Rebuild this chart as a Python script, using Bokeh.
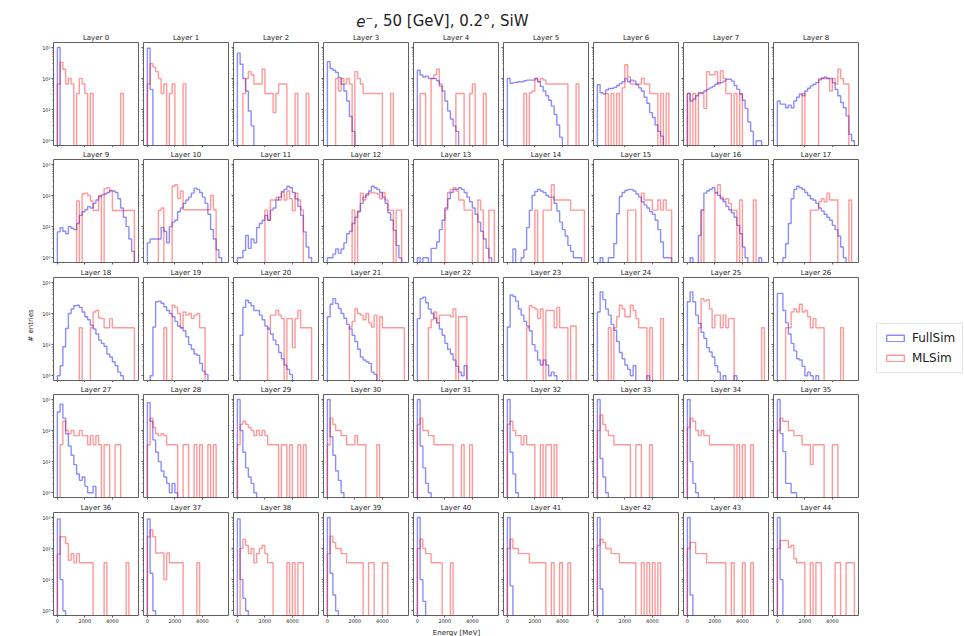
import math
from bokeh.plotting import figure
from bokeh.layouts import column, row
from bokeh.models import Range1d, FixedTicker, Label, Legend, LegendItem, CustomLabelingPolicy
from bokeh.embed import file_html
from bokeh.resources import INLINE

# ---------------- data ----------------
BIN_EDGES = [0, 200, 400, 600, 800, 1000, 1200, 1400, 1600, 1800, 2000, 2200, 2400, 2600,
             2800, 3000, 3200, 3400, 3600, 3800, 4000, 4200, 4400, 4600, 4800, 5000, 5200,
             5400, 5600]
X_TICKS = [0, 2000, 4000]
Y_TICKS = [1, 10, 100, 1000]
Y_TICK_LABELS = ["10⁰", "10¹", "10²", "10³"]
Y_MINOR = [2, 3, 4, 5, 6, 7, 8, 9, 20, 30, 40, 50, 60, 70, 80, 90, 200, 300, 400, 500, 600, 700, 800, 900]
SERIES_NAMES = ["FullSim", "MLSim"]

# entries per 200 MeV bin (FullSim = FULL_Lk, MLSim = ML_Lk); missing trailing bins are empty
FULL_L0 = [1000]
ML_L0 = [67, 333, 200, 67, 100, 67, 0, 33, 100, 67, 33, 0, 33, 0, 0, 0, 0, 0, 0, 0, 0, 0, 0, 33]
FULL_L1 = [950, 45]
ML_L1 = [67, 300, 233, 167, 100, 33, 67, 0, 33, 67, 0, 0, 0, 67]
FULL_L2 = [660, 290, 100, 40, 9, 3]
ML_L2 = [0, 0, 33, 100, 167, 133, 67, 67, 67, 200, 33, 33, 33, 8, 33, 67, 67, 67, 0, 0, 0, 33, 0, 0, 0, 33]
FULL_L3 = [350, 210, 185, 158, 107, 66, 40, 19, 6, 2]
ML_L3 = [0, 0, 0, 100, 40, 100, 67, 100, 67, 0, 167, 100, 67, 33, 33, 33, 33, 33, 33, 33, 0, 0, 0, 33]
FULL_L4 = [185, 130, 112, 120, 100, 100, 100, 85, 57, 40, 19, 9, 5, 3, 2]
ML_L4 = [0, 33, 33, 0, 0, 100, 133, 200, 67, 0, 0, 0, 0, 0, 33, 33, 33, 0, 0, 33, 67, 0, 0, 0, 33]
FULL_L5 = [100, 71, 74, 76, 79, 79, 85, 89, 89, 89, 100, 79, 56, 40, 28, 20, 13, 7, 3.2, 1.3]
ML_L5 = [0, 0, 0, 0, 0, 0, 33, 0, 35, 40, 100, 80, 100, 90, 67, 67, 67, 67, 67, 67, 67, 67, 0, 0, 0, 67]
FULL_L6 = [63, 35, 32, 43, 48, 48, 52, 60, 69, 79, 100, 79, 89, 83, 63, 50, 40, 25, 16, 8, 5.6, 3.2, 2, 1.4]
ML_L6 = [0, 0, 0, 33, 0, 33, 0, 33, 0, 50, 280, 112, 67, 67, 67, 67, 100, 67, 67, 33, 33, 33, 0, 33, 0, 33]
FULL_L7 = [33, 19, 22, 28, 35, 35, 40, 45, 50, 56, 66, 74, 74, 83, 95, 95, 83, 60, 45, 32, 20, 11, 4, 2, 0, 1, 1]
ML_L7 = [33, 0, 33, 0, 33, 33, 11, 167, 133, 133, 167, 67, 178, 100, 33, 33, 0, 33, 0, 33]
FULL_L8 = [19, 15, 15, 11.5, 14, 11.5, 19, 25, 32, 28, 40, 49, 58, 66, 74, 91, 102, 112, 100, 100, 74, 45, 28, 17, 11.5, 6.3, 1.6, 1]
ML_L8 = [0, 0, 0, 0, 0, 0, 0, 0, 0, 33, 0, 0, 0, 0, 0, 100, 100, 100, 100, 40, 100, 67, 200, 100, 67, 67]
FULL_L9 = [6.8, 9.3, 7.1, 5.9, 10, 8.9, 8, 12.6, 23, 30, 35, 44, 40, 56, 72, 93, 105, 112, 126, 145, 141, 126, 79, 40, 20, 10, 4, 1.6]
ML_L9 = [0, 0, 0, 0, 0, 0, 0, 67, 0, 112, 120, 100, 67, 33, 33, 100, 0, 167, 178, 141, 33, 33, 33, 33, 33, 33, 33, 33]
FULL_L10 = [3, 4, 4, 4, 4, 9.3, 7.1, 3, 10, 14, 16, 30, 40, 56, 72, 89, 120, 174, 158, 126, 89, 56, 25, 8, 4, 1.8, 1]
ML_L10 = [0, 0, 0, 0, 33, 40, 0, 0, 0, 200, 224, 80, 141, 35, 35, 35, 35, 35, 35, 35, 35, 35, 35, 100, 35]
FULL_L11 = [1, 1, 1.7, 5.2, 2, 4, 3, 9.3, 12.6, 16, 23, 16, 34, 40, 72, 89, 135, 158, 200, 178, 126, 79, 45, 23, 6.8, 2.2, 1]
ML_L11 = [0, 0, 0, 0, 0, 0, 0, 0, 0, 0, 34, 16, 72, 72, 89, 72, 126, 72, 141, 79, 33, 120, 72, 34]
FULL_L12 = [1, 1, 1.3, 1.9, 1.4, 1.9, 3, 5.9, 7.1, 12.6, 20, 30, 56, 89, 112, 141, 200, 178, 158, 126, 89, 56, 28, 16, 7.6, 2.5, 1]
ML_L12 = [0, 0, 0, 0, 0, 0, 0, 0, 0, 34, 0, 32, 120, 72, 100, 120, 126, 120, 112, 79, 126, 72, 34, 34, 0, 34, 34]
FULL_L13 = [1, 0, 1, 1, 0, 2, 2, 3.2, 8, 16, 40, 79, 126, 158, 158, 178, 158, 126, 89, 63, 40, 25, 14, 7.1, 4, 2, 1]
ML_L13 = [0, 0, 0, 0, 0, 0, 0, 0, 0, 0, 34, 126, 158, 178, 141, 72, 72, 34, 34, 34, 0, 0, 72, 34, 0, 0, 34, 34]
FULL_L14 = [0, 0, 1.9, 0, 0, 1, 1.8, 9.3, 34, 100, 135, 158, 141, 126, 100, 89, 89, 56, 32, 14, 8, 5, 2.5, 1.6, 1, 1, 1]
ML_L14 = [0, 0, 0, 0, 0, 0, 0, 0, 0, 0, 34, 0, 0, 34, 34, 34, 224, 72, 72, 72, 72, 72, 72, 34, 34, 34, 34, 34]
FULL_L15 = [0, 1, 0, 0, 1, 1, 2.8, 26, 93, 126, 145, 158, 158, 141, 112, 89, 63, 50, 40, 30, 25, 16, 8, 3.2, 1, 1, 1]
ML_L15 = [0, 0, 0, 0, 0, 0, 0, 0, 0, 0, 0, 34, 34, 34, 0, 0, 120, 72, 72, 72, 34, 34, 72, 34, 72, 34, 34]
FULL_L16 = [0, 1, 0, 0, 5.2, 34, 120, 141, 158, 178, 126, 100, 79, 63, 45, 35, 28, 20, 11, 5.9, 2.2, 1, 0, 0, 0, 0, 1]
ML_L16 = [0, 0, 0, 0, 0, 34, 0, 0, 0, 0, 120, 224, 89, 72, 79, 56, 34, 34, 0, 72, 0, 0, 0, 0, 72]
FULL_L17 = [0, 0, 1, 2.8, 12.6, 79, 158, 200, 178, 158, 126, 100, 79, 71, 56, 40, 32, 25, 20, 16, 11, 8, 5, 2.2, 1]
ML_L17 = [0, 0, 0, 0, 0, 0, 0, 0, 0, 0, 0, 0, 34, 34, 34, 63, 79, 63, 120, 72, 72, 72, 0, 0, 0, 0, 72]
FULL_L18 = [1, 2.1, 8.5, 33, 100, 141, 178, 186, 158, 112, 79, 63, 42, 32, 22, 14, 11, 8.9, 5, 4, 2.8, 2.1, 1.3, 1]
ML_L18 = [0, 0, 0, 0, 0, 0, 0, 0, 35, 0, 0, 0, 35, 112, 126, 72, 69, 35, 35, 69, 35, 35, 35, 35, 35, 35, 35, 35]
FULL_L19 = [0, 1, 37, 240, 251, 214, 166, 126, 100, 79, 56, 40, 35, 28, 18, 10, 7.1, 5, 4.5, 2.5, 1.4, 1.1]
ML_L19 = [0, 0, 0, 0, 0, 0, 35, 0, 0, 186, 158, 100, 35, 112, 89, 100, 69, 89, 100, 35, 35]
FULL_L20 = [0, 20, 158, 269, 224, 178, 126, 126, 89, 63, 40, 32, 22, 14, 10, 5.6, 3.5, 2.2, 1.6, 1.1]
ML_L20 = [0, 0, 0, 0, 0, 0, 0, 0, 0, 0, 0, 35, 89, 89, 126, 89, 69, 0, 69, 69, 8, 69, 126, 35, 35, 35, 35]
FULL_L21 = [79, 200, 302, 209, 145, 100, 71, 45, 32, 20, 12.6, 7.1, 4, 3.2, 2.8, 2.5, 1.3, 1.1]
ML_L21 = [0, 0, 0, 0, 0, 0, 0, 0, 37, 56, 141, 100, 89, 63, 100, 50, 37, 89, 0, 79, 35, 35, 35, 35, 35, 35, 35, 35]
FULL_L22 = [69, 302, 339, 224, 141, 100, 71, 50, 32, 20, 11, 7.1, 5, 3.2, 2, 1.3, 1, 2.1]
ML_L22 = [0, 0, 0, 0, 35, 63, 112, 50, 89, 89, 89, 89, 79, 141, 0, 79, 79, 79]
FULL_L23 = [37, 398, 355, 251, 141, 89, 56, 40, 28, 10, 6.3, 3.2, 2.2, 3.2, 2.2, 1, 1.3, 1]
ML_L23 = [0, 0, 0, 0, 0, 0, 0, 35, 178, 158, 141, 69, 141, 0, 126, 126, 126, 35, 158, 35, 35, 35, 0, 40, 40]
FULL_L24 = [112, 501, 282, 141, 89, 45, 29, 12.6, 5.6, 3.5, 2.2, 1.6, 1, 2.1, 0, 0, 0, 0, 1]
ML_L24 = [0, 0, 0, 0, 35, 0, 35, 79, 186, 141, 79, 79, 186, 126, 69, 35, 35, 35, 0, 35, 0, 0, 0, 69]
FULL_L25 = [240, 501, 240, 89, 48, 25, 16, 8, 5.8, 4, 2.1, 1.3, 0, 1, 0, 0, 0, 1]
ML_L25 = [0, 0, 0, 0, 35, 302, 251, 282, 141, 35, 89, 89, 35, 89, 35, 69, 69, 0, 0, 0, 0, 0, 0, 0, 0, 0, 0, 35]
FULL_L26 = [447, 447, 126, 50, 22, 11, 6.3, 3.5, 3.2, 2, 1, 1.3, 1, 0, 1]
ML_L26 = [0, 0, 0, 35, 35, 112, 141, 112, 200, 112, 126, 79, 35, 69, 35, 35, 35, 0, 0, 0, 0, 0, 0, 35]
FULL_L27 = [398, 708, 251, 79, 32, 16, 8, 4, 2.5, 3.2, 1.6, 1, 1, 1.6]
ML_L27 = [0, 35, 200, 100, 79, 100, 69, 69, 100, 69, 69, 35, 69, 35, 69, 35, 0, 35, 35, 0, 0, 35, 35]
FULL_L28 = [794, 200, 50, 20, 10, 5, 3.2, 2, 1, 2, 1]
ML_L28 = [35, 251, 126, 79, 69, 79, 69, 35, 35, 35, 35, 0, 0, 35, 35, 0, 0, 35, 0, 35, 0, 0, 35, 0, 35]
FULL_L29 = [1000, 100, 20, 6.3, 3.2, 2, 1]
ML_L29 = [35, 158, 200, 158, 126, 100, 69, 100, 69, 100, 69, 35, 35, 35, 35, 0, 35, 35, 0, 35, 0, 0, 35, 0, 35]
FULL_L30 = [1000, 63, 16, 5, 2.5, 1]
ML_L30 = [35, 251, 158, 100, 100, 69, 69, 35, 35, 35, 69, 35, 35, 35, 0, 0, 0, 0, 35]
FULL_L31 = [1000, 32, 6.3, 2, 1]
ML_L31 = [158, 251, 100, 100, 69, 69, 35, 35, 35, 35, 35, 35, 35, 0, 0, 0, 35, 0, 0, 35]
FULL_L32 = [1000, 20, 4, 1]
ML_L32 = [158, 200, 100, 69, 69, 35, 69, 35, 35, 35, 0, 0, 35, 0, 35, 35, 0, 35]
FULL_L33 = [1000, 12.6, 3.2, 1]
ML_L33 = [100, 316, 158, 100, 69, 69, 35, 35, 35, 35, 35, 35, 0, 0, 35, 35, 0, 0, 0, 35]
FULL_L34 = [1000, 10, 2, 1]
ML_L34 = [126, 251, 200, 100, 69, 100, 69, 69, 35, 35, 35, 35, 35, 35, 35, 35, 35, 0, 35, 0, 35, 0, 0, 35]
FULL_L35 = [1000, 80, 21, 2, 2, 1, 1]
ML_L35 = [100, 251, 200, 200, 100, 100, 69, 69, 69, 35, 35, 35, 8, 35, 35, 35, 35, 0, 0, 0, 35, 35]
FULL_L36 = [891, 10, 1]
ML_L36 = [66, 240, 240, 145, 42, 69, 35, 69, 35, 35, 35, 35, 35, 0, 0, 0, 0, 35, 0, 0, 0, 0, 0, 0, 0, 35]
FULL_L37 = [891, 16, 1]
ML_L37 = [240, 398, 240, 72, 72, 72, 10, 72, 35, 35, 35, 35, 35, 0, 0, 0, 0, 0, 35]
FULL_L38 = [891, 10, 2.5, 1]
ML_L38 = [0, 100, 195, 126, 69, 100, 35, 69, 100, 126, 69, 35, 35, 0, 0, 0, 0, 0, 35, 0, 35, 0, 35, 35]
FULL_L39 = [1000, 16, 3.2, 1]
ML_L39 = [69, 251, 158, 100, 100, 69, 69, 35, 35, 35, 35, 35, 35, 0, 0, 35, 35, 0, 0, 0, 35, 35]
FULL_L40 = [1000, 10, 2]
ML_L40 = [100, 200, 100, 69, 69, 35, 35, 35, 35, 0, 0, 0, 35]
FULL_L41 = [1000, 6.3]
ML_L41 = [100, 200, 100, 100, 69, 69, 69, 69, 35, 35, 35, 35, 35, 35, 0, 0, 35, 0, 0, 35, 0, 0, 35]
FULL_L42 = [1000, 5]
ML_L42 = [126, 200, 158, 100, 100, 69, 69, 69, 35, 35, 35, 35, 35, 35, 0, 0, 35, 0, 35, 0, 35, 0, 35]
FULL_L43 = [1000, 3.2]
ML_L43 = [100, 158, 158, 69, 69, 69, 69, 35, 35, 35, 35, 35, 35, 35, 0, 0, 35, 0, 0, 0, 35, 0, 0, 35]
FULL_L44 = [1000, 10]
ML_L44 = [100, 182, 182, 182, 110, 126, 47, 35, 35, 35, 0, 0, 35, 0, 35, 35, 0, 0, 0, 0, 0, 35, 35, 0, 0, 35, 35, 35]

FULL = [FULL_L0, FULL_L1, FULL_L2, FULL_L3, FULL_L4, FULL_L5, FULL_L6, FULL_L7, FULL_L8,
        FULL_L9, FULL_L10, FULL_L11, FULL_L12, FULL_L13, FULL_L14, FULL_L15, FULL_L16, FULL_L17,
        FULL_L18, FULL_L19, FULL_L20, FULL_L21, FULL_L22, FULL_L23, FULL_L24, FULL_L25, FULL_L26,
        FULL_L27, FULL_L28, FULL_L29, FULL_L30, FULL_L31, FULL_L32, FULL_L33, FULL_L34, FULL_L35,
        FULL_L36, FULL_L37, FULL_L38, FULL_L39, FULL_L40, FULL_L41, FULL_L42, FULL_L43, FULL_L44]
ML = [ML_L0, ML_L1, ML_L2, ML_L3, ML_L4, ML_L5, ML_L6, ML_L7, ML_L8,
      ML_L9, ML_L10, ML_L11, ML_L12, ML_L13, ML_L14, ML_L15, ML_L16, ML_L17,
      ML_L18, ML_L19, ML_L20, ML_L21, ML_L22, ML_L23, ML_L24, ML_L25, ML_L26,
      ML_L27, ML_L28, ML_L29, ML_L30, ML_L31, ML_L32, ML_L33, ML_L34, ML_L35,
      ML_L36, ML_L37, ML_L38, ML_L39, ML_L40, ML_L41, ML_L42, ML_L43, ML_L44]

# ---------------- style / layout ----------------
FONT = "DejaVu Sans"
BLUE = "#0000ff"
RED = "#ff0000"
TEXT = "#222222"
SPINE = "#606060"
X_LIMITS = (-282, 5900)
Y_LIMITS = (0.7, 1450)
FLOOR = 0.1
NBINS = len(BIN_EDGES) - 1
NCOLS = 9
FRAME_W, FRAME_H = 85, 103
CELL_TOP = 12
ROW_BOTTOM = [2, 3, 2, 3, 10]
COL0_LEFT = 17
TOTAL_W, TOTAL_H = 964, 636
TITLE_H = 30
YLAB_W = 36
XLAB_H = 11

NO_LABELS = CustomLabelingPolicy(code="return []")


def step_xy(counts):
    c = list(counts) + [0] * (NBINS - len(counts))
    xs, ys = [BIN_EDGES[0]], [FLOOR]
    for k, v in enumerate(c):
        h = v if v > 0 else FLOOR
        xs += [BIN_EDGES[k], BIN_EDGES[k + 1]]
        ys += [h, h]
    xs.append(BIN_EDGES[-1])
    ys.append(FLOOR)
    return xs, ys


def panel(i):
    r, c = divmod(i, NCOLS)
    left = COL0_LEFT if c == 0 else 3
    bottom = ROW_BOTTOM[r]
    p = figure(width=left + FRAME_W + 2, height=CELL_TOP + FRAME_H + bottom,
               x_range=Range1d(*X_LIMITS), y_range=Range1d(*Y_LIMITS),
               y_axis_type="log", output_backend="svg", toolbar_location=None,
               min_border_left=left, min_border_right=2, min_border_top=CELL_TOP,
               min_border_bottom=bottom, title=f"Layer {i}")
    p.title.text_font = FONT
    p.title.text_font_size = "7px"
    p.title.text_font_style = "normal"
    p.title.text_color = TEXT
    p.title.align = "center"
    p.title.standoff = 1
    p.title.offset = 0
    p.grid.visible = False
    p.outline_line_color = SPINE
    p.outline_line_width = 1
    p.background_fill_color = "white"
    p.border_fill_color = "white"

    xa = p.xaxis[0]
    xa.ticker = FixedTicker(ticks=X_TICKS, minor_ticks=[])
    xa.axis_line_color = None
    xa.major_tick_in = 0
    xa.major_tick_out = 2
    xa.minor_tick_out = 0
    xa.major_tick_line_color = SPINE
    xa.major_label_text_font = FONT
    xa.major_label_text_color = TEXT
    if r == 4:
        xa.major_label_text_font_size = "5px"
        xa.major_label_standoff = 1
    else:
        xa.major_label_text_font_size = "0px"
        xa.major_label_standoff = 0
        xa.major_label_policy = NO_LABELS

    ya = p.yaxis[0]
    ya.ticker = FixedTicker(ticks=Y_TICKS, minor_ticks=Y_MINOR)
    ya.major_label_overrides = dict(zip(Y_TICKS, Y_TICK_LABELS))
    ya.axis_line_color = None
    ya.major_tick_in = 0
    ya.major_tick_out = 2
    ya.minor_tick_in = 0
    ya.minor_tick_out = 1
    ya.major_tick_line_color = SPINE
    ya.minor_tick_line_color = SPINE
    ya.major_label_text_font = FONT
    ya.major_label_text_color = TEXT
    if c == 0:
        ya.major_label_text_font_size = "5px"
        ya.major_label_standoff = 1
    else:
        ya.major_label_text_font_size = "0px"
        ya.major_label_standoff = 0
        ya.major_label_policy = NO_LABELS

    fx, fy = step_xy(FULL[i])
    mx, my = step_xy(ML[i])
    p.line(fx, fy, line_color=BLUE, line_alpha=0.45, line_width=1.4)
    p.line(mx, my, line_color=RED, line_alpha=0.4, line_width=1.4)
    return p


panels = [panel(i) for i in range(len(FULL))]
grid = column(*[row(*panels[r * NCOLS:(r + 1) * NCOLS], spacing=0) for r in range(5)], spacing=0)

GRID_H = sum(CELL_TOP + FRAME_H + b for b in ROW_BOTTOM)
GRID_W = (COL0_LEFT + FRAME_W + 2) + (NCOLS - 1) * (3 + FRAME_W + 2)


def blank(w, h):
    f = figure(width=w, height=h, x_range=Range1d(0, w), y_range=Range1d(0, h),
               output_backend="svg", toolbar_location=None, min_border=0,
               x_axis_location=None, y_axis_location=None, title=None)
    f.outline_line_color = None
    f.grid.visible = False
    f.background_fill_color = "white"
    f.border_fill_color = "white"
    return f


# title
tf = blank(TOTAL_W, TITLE_H)
tf.add_layout(Label(x=365, y=10, text="e", text_font=FONT, text_font_size="15px",
                    text_font_style="italic", text_align="right", text_baseline="middle",
                    text_color=TEXT))
tf.add_layout(Label(x=365, y=10, text="⁻, 50 [GeV], 0.2°, SiW", text_font=FONT,
                    text_font_size="15px", text_align="left", text_baseline="middle",
                    text_color=TEXT))

# y label
yl = blank(YLAB_W, GRID_H)
yl.add_layout(Label(x=30, y=GRID_H - 295, text="# entries", angle=math.pi / 2,
                    text_font=FONT, text_font_size="7px", text_align="center",
                    text_baseline="middle", text_color=TEXT))

# legend
LEG_W = TOTAL_W - YLAB_W - GRID_W
lf = blank(LEG_W, GRID_H)
nan = float("nan")
r_full = lf.quad(left=[nan], right=[nan], top=[nan], bottom=[nan], fill_alpha=0,
                 line_color=BLUE, line_alpha=0.45, line_width=1.4)
r_ml = lf.quad(left=[nan], right=[nan], top=[nan], bottom=[nan], fill_alpha=0,
               line_color=RED, line_alpha=0.4, line_width=1.4)
leg = Legend(items=[LegendItem(label=SERIES_NAMES[0], renderers=[r_full]),
                    LegendItem(label=SERIES_NAMES[1], renderers=[r_ml])],
             location=(16, 252))
leg.label_text_font = FONT
leg.label_text_font_size = "12px"
leg.label_text_color = TEXT
leg.label_height = 14
leg.label_standoff = 6
leg.glyph_width = 22
leg.glyph_height = 8
leg.spacing = 6
leg.padding = 7
leg.margin = 0
leg.border_line_color = "#cccccc"
leg.border_line_width = 1
leg.background_fill_alpha = 1
lf.add_layout(leg)

# x label
xl = blank(TOTAL_W, XLAB_H)
xl.add_layout(Label(x=456, y=5, text="Energy [MeV]", text_font=FONT, text_font_size="7px",
                    text_align="center", text_baseline="middle", text_color=TEXT))

layout = column(tf, row(yl, grid, lf, spacing=0), xl, spacing=0)

open("out.html", "w").write(file_html(layout, INLINE))
